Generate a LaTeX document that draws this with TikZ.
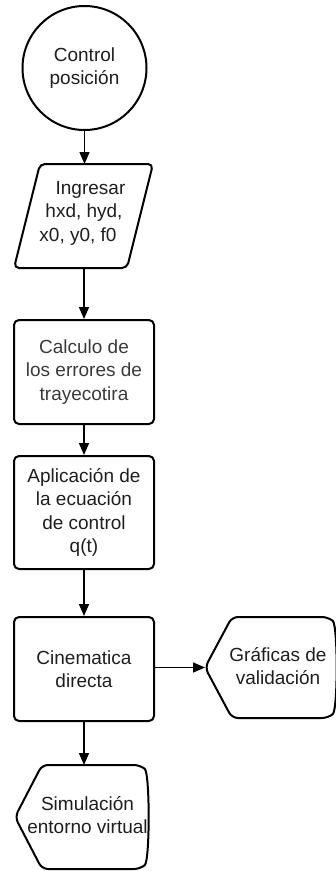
\documentclass[tikz,border=0pt]{standalone}
\usepackage{fontspec}
\setmainfont{Liberation Sans}
\usetikzlibrary{arrows.meta}
\definecolor{ink}{HTML}{1E1E1E}
\definecolor{softink}{HTML}{3A3A3A}
\begin{document}
\begin{tikzpicture}[x=1pt,y=-1pt,
  shapeline/.style={draw=black,line width=2pt,line join=round},
  label/.style={align=center,text=ink,inner sep=0pt,
    font=\fontsize{19}{23.5}\selectfont},
  boxnode/.style={shapeline,rounded corners=5pt,minimum width=140pt,
    minimum height=104pt,label},
  flow/.style={line width=1.5pt,-{Triangle[length=12pt,width=10pt]}}]
\useasboundingbox (0,0) rectangle (336,871);

% start terminal
\node[shapeline,circle,minimum size=124pt,label] (start) at (84.5,68)
  {Control\\posición};

% input parallelogram, its lines following the slant
\draw[shapeline,rounded corners=5pt]
  (40,164) -- (153,164) -- (127,268) -- (14,268) -- cycle;
\coordinate (inTop) at (96.5,164);
\coordinate (inBot) at (70.5,268);
\node[label] (input) at (84,213)
  {\hspace*{13pt}Ingresar\\hxd, hyd,\\x0, y0, f0\hspace*{12pt}};

% process boxes
\node[boxnode,text=softink] (err) at (84,372)
  {Calculo de\\los errores de\\trayecotira};
\node[boxnode,minimum height=113pt] (ctrl) at (84,512.5)
  {Aplicación de\\la ecuación\\de control\\q(t)};
\node[boxnode] (kin) at (84,669)
  {Cinematica\\directa};

% display outputs
\newcommand{\displayshape}[4]{% left tip x, top y, bottom y, right x
  \draw[shapeline,rounded corners=6pt]
    (#1,{(#2+#3)/2}) -- ({#1+27},#2) -- (#4,#2)
    .. controls ({#4+10},{#2+8}) and ({#4+10},{#3-8}) .. (#4,#3)
    -- ({#1+27},#3) -- cycle;}
\displayshape{205}{617}{718}{328}
\coordinate (graphIn) at (205,667.5);
\node[label] (graph) at (278,666) {Gráficas de\\validación};

\displayshape{15}{765}{869}{140}
\coordinate (simTop) at (84,765);
\node[label] (sim) at (87.5,815) {Simulación\\entorno virtual};

% connectors
\draw[flow] (start.south) -- (84.5,164);
\draw[flow] (84,268) -- (err.north);
\draw[flow] (err.south) -- (ctrl.north);
\draw[flow] (ctrl.south) -- (kin.north);
\draw[flow] (kin.east |- graphIn) -- (graphIn);
\draw[flow] (kin.south) -- (simTop);
\end{tikzpicture}
\end{document}
